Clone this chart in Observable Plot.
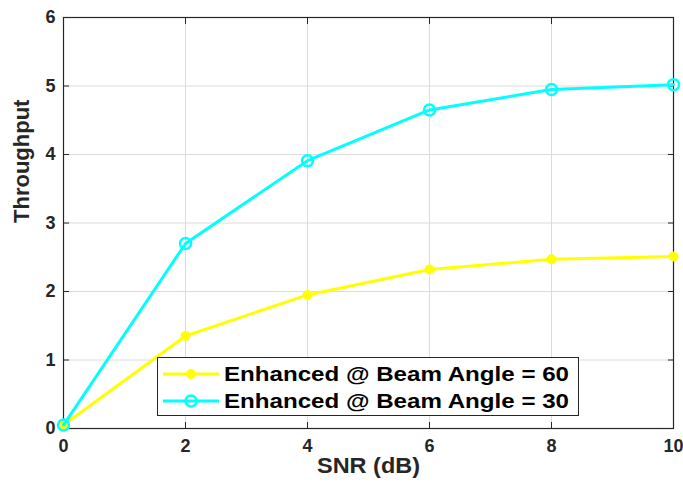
<!DOCTYPE html>
<html><head><meta charset="utf-8">
<script src="https://cdn.jsdelivr.net/npm/d3@7"></script>
<script src="https://cdn.jsdelivr.net/npm/@observablehq/plot@0.6"></script>
<style>
body{margin:0;background:#fff;font-family:"Liberation Sans",Arial,sans-serif;}
#chart{position:relative;width:683px;height:486px;}
</style></head><body><div id="chart"></div>
<script>
const snr = [0, 2, 4, 6, 8, 10];
const beam60 = [0.05, 1.35, 1.95, 2.32, 2.47, 2.51];
const beam30 = [0.05, 2.70, 3.91, 4.65, 4.95, 5.02];
const seriesNames = ["Enhanced @ Beam Angle = 60", "Enhanced @ Beam Angle = 30"];
const seriesColors = ["#ffff00", "#00ffff"];
const xTicks = [0, 2, 4, 6, 8, 10];
const yTicks = [0, 1, 2, 3, 4, 5, 6];

const d60 = snr.map((x, i) => ({x, y: beam60[i]}));
const d30 = snr.map((x, i) => ({x, y: beam30[i]}));

const font = {fontFamily: "Liberation Sans, Arial, sans-serif", fontWeight: "bold"};
const plot = Plot.plot({
  width: 683, height: 486,
  marginLeft: 63, marginRight: 10, marginTop: 17, marginBottom: 58,
  style: {fontFamily: "Liberation Sans, Arial, sans-serif", background: "white", overflow: "visible"},
  x: {domain: [0, 10]},
  y: {domain: [0, 6]},
  marks: [
    Plot.gridX(xTicks, {stroke: "#dcdcdc", strokeOpacity: 1}),
    Plot.gridY(yTicks, {stroke: "#dcdcdc", strokeOpacity: 1}),
    Plot.frame({stroke: "#262626", strokeWidth: 1.2}),
    Plot.axisX(xTicks, {anchor: "bottom", tickSize: 0, tickPadding: 11, fontSize: 18, ...font, fill: "#262626", label: null, tickFormat: d => d}),
    Plot.axisX(xTicks, {anchor: "bottom", tickSize: -6, text: null, stroke: "#262626", label: null}),
    Plot.axisX(xTicks, {anchor: "top", tickSize: -6, text: null, stroke: "#262626", label: null}),
    Plot.axisY(yTicks, {anchor: "left", tickSize: 0, tickPadding: 8, fontSize: 18, ...font, fill: "#262626", label: null, tickFormat: d => d}),
    Plot.axisY(yTicks, {anchor: "left", tickSize: -6, text: null, stroke: "#262626", label: null}),
    Plot.axisY(yTicks, {anchor: "right", tickSize: -6, text: null, stroke: "#262626", label: null}),
    Plot.line(d60, {x: "x", y: "y", stroke: seriesColors[0], strokeWidth: 3}),
    Plot.dot(d60, {x: "x", y: "y", fill: seriesColors[0], r: 5}),
    Plot.line(d30, {x: "x", y: "y", stroke: seriesColors[1], strokeWidth: 3}),
    Plot.dot(d30, {x: "x", y: "y", stroke: seriesColors[1], fill: "none", r: 5.5, strokeWidth: 2.5}),
    Plot.text(["SNR (dB)"], {frameAnchor: "bottom", dy: 44, fontSize: 22, ...font, fill: "#262626"}),
    Plot.text(["Throughput"], {frameAnchor: "left", dx: -42, rotate: -90, fontSize: 22, ...font, fill: "#262626"})
  ]
});
const chart = document.getElementById("chart");
chart.appendChild(plot);
d3.select(plot).selectAll("text").filter(function(){ return this.textContent === "SNR (dB)"; })
  .attr("textLength", 103).attr("lengthAdjust", "spacingAndGlyphs");

// legend overlay
const leg = d3.select(chart).append("svg")
  .attr("width", 422).attr("height", 59)
  .style("position", "absolute").style("left", "157px").style("top", "357px");
leg.append("rect").attr("x", 0.5).attr("y", 0.5).attr("width", 421).attr("height", 58)
  .attr("fill", "white").attr("stroke", "#262626").attr("stroke-width", 1);
seriesNames.forEach((name, i) => {
  const cy = 17 + i * 27;
  leg.append("line").attr("x1", 6).attr("x2", 62).attr("y1", cy).attr("y2", cy)
    .attr("stroke", seriesColors[i]).attr("stroke-width", 3);
  if (i === 0) leg.append("circle").attr("cx", 34).attr("cy", cy).attr("r", 5).attr("fill", seriesColors[i]);
  else leg.append("circle").attr("cx", 34).attr("cy", cy).attr("r", 5.5).attr("fill", "none")
    .attr("stroke", seriesColors[i]).attr("stroke-width", 2.5);
  leg.append("text").attr("x", 67).attr("y", cy + 7).text(name)
    .attr("font-family", "Liberation Sans, Arial, sans-serif").attr("font-weight", "bold")
    .attr("font-size", 20).attr("fill", "#000").attr("textLength", 345).attr("lengthAdjust", "spacingAndGlyphs");
});
</script></body></html>
